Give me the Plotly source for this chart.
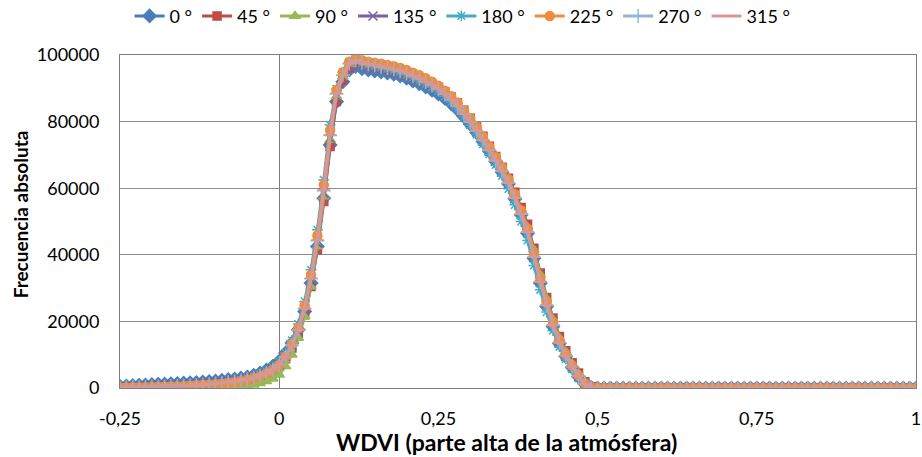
import plotly.graph_objects as go

# x positions: -0.25 .. 1.00 step 0.01
x_values = [round(-0.25 + 0.01 * i, 2) for i in range(126)]

# Nonzero part of each series (x = -0.25 .. 0.49)
s0 = [500, 600, 700, 800, 900, 1000, 1100, 1150, 1250, 1350,
      1450, 1550, 1650, 1800, 1950, 2100, 2300, 2500, 2700, 3000,
      3300, 3800, 4500, 5400, 6500, 8000, 10500, 13500, 17500, 23000,
      31500, 42500, 57000, 73000, 86000, 92000, 95500, 96600, 95900, 95500,
      95200, 94900, 94600, 94200, 93700, 93000, 92200, 91400, 90400, 89400,
      88300, 87000, 85400, 83600, 81500, 79200, 76700, 74000, 71100, 68000,
      64800, 61300, 56800, 52000, 46500, 39000, 31500, 24500, 18500, 13400,
      9500, 6200, 3400, 1200, 200]
s45 = [300, 300, 350, 400, 450, 500, 550, 600, 650, 700,
       800, 900, 1000, 1100, 1250, 1400, 1600, 1800, 2050, 2350,
       2700, 3100, 3600, 4300, 5200, 6500, 8800, 12000, 16200, 22000,
       30500, 41500, 56000, 72500, 86000, 92500, 96200, 97500, 97200, 96800,
       96500, 96100, 95700, 95300, 94800, 94100, 93300, 92500, 91600, 90700,
       90300, 89000, 87400, 85600, 83400, 81000, 78400, 75600, 72600, 69500,
       66300, 63000, 58800, 54200, 49200, 42000, 34500, 27200, 21000, 15500,
       11200, 7600, 4500, 1900, 400]
s90 = [0, 0, 0, 0, 0, 0, 0, 50, 50, 50,
       100, 100, 100, 150, 150, 200, 250, 300, 400, 400,
       700, 1000, 1400, 2000, 2800, 4000, 6500, 10000, 15000, 21500,
       30500, 42500, 57500, 74500, 87500, 93500, 97200, 98300, 97900, 97500,
       97200, 96800, 96400, 96000, 95500, 94900, 94100, 93300, 92400, 91400,
       90200, 88800, 87200, 85300, 83100, 80700, 78100, 75300, 72400, 69300,
       66100, 62600, 58300, 53500, 48300, 41500, 34000, 26800, 20500, 15000,
       10800, 7300, 4200, 1700, 300]
s135 = [200, 250, 250, 300, 350, 400, 450, 500, 550, 650,
        750, 850, 950, 1050, 1200, 1350, 1550, 1800, 2050, 2400,
        2800, 3300, 3900, 4700, 5700, 7100, 9500, 12800, 17000, 23200,
        32000, 43500, 58500, 75000, 87500, 93300, 96800, 97800, 97200, 96800,
        96500, 96100, 95700, 95300, 94800, 94100, 93300, 92500, 91500, 90500,
        89300, 87800, 86100, 84200, 82000, 79600, 76900, 74100, 71100, 68000,
        64800, 61300, 56800, 52000, 46600, 39200, 31700, 24700, 18700, 13500,
        9500, 6300, 3500, 1200, 200]
s180 = [250, 250, 300, 300, 350, 400, 450, 500, 550, 650,
        750, 850, 950, 1050, 1200, 1350, 1550, 1800, 2100, 2450,
        2900, 3400, 4100, 5000, 6100, 7800, 10500, 14300, 19200, 26000,
        35500, 47500, 62500, 79000, 89800, 94800, 97800, 98200, 97500, 97000,
        96600, 96200, 95800, 95300, 94800, 94000, 93200, 92300, 91300, 90300,
        89200, 87600, 85800, 83800, 81400, 78900, 76100, 73200, 70200, 67000,
        63700, 59800, 55000, 50000, 44300, 36800, 29500, 22800, 17200, 12400,
        8700, 5600, 2900, 900, 100]
s225 = [150, 150, 200, 200, 250, 300, 350, 400, 450, 500,
        600, 700, 800, 900, 1000, 1150, 1300, 1500, 1750, 2050,
        2450, 2950, 3550, 4350, 5400, 6900, 9500, 13200, 18000, 24800,
        34000, 45800, 61000, 77500, 89500, 94800, 98000, 99000, 98400, 98000,
        97700, 97400, 97000, 96600, 96100, 95500, 94700, 93900, 93000, 92000,
        90800, 89300, 87600, 85700, 83400, 81000, 78300, 75500, 72500, 69400,
        66200, 62700, 58200, 53300, 47800, 40300, 32800, 25700, 19600, 14300,
        10200, 6800, 3800, 1400, 200]
s270 = [150, 200, 250, 250, 300, 350, 400, 450, 500, 600,
        650, 750, 850, 950, 1100, 1250, 1450, 1700, 1950, 2250,
        2650, 3100, 3700, 4500, 5500, 6900, 9300, 12800, 17300, 23800,
        32800, 44200, 59200, 75800, 88300, 93900, 97400, 98400, 97700, 97200,
        96900, 96500, 96100, 95700, 95200, 94500, 93700, 92900, 91900, 90900,
        89700, 88200, 86500, 84500, 82200, 79800, 77100, 74300, 71300, 68200,
        65000, 61500, 57000, 52200, 46800, 39300, 31800, 24800, 18800, 13600,
        9600, 6400, 3500, 1200, 200]
s315 = [200, 200, 200, 300, 300, 400, 400, 500, 500, 600,
        700, 800, 900, 1000, 1100, 1300, 1500, 1700, 2000, 2300,
        2700, 3200, 3800, 4600, 5600, 7000, 9500, 13000, 17500, 24000,
        33000, 44500, 59500, 76000, 88500, 94000, 97500, 98500, 97800, 97300,
        97000, 96600, 96200, 95800, 95300, 94600, 93800, 93000, 92000, 91000,
        89800, 88300, 86600, 84700, 82400, 80000, 77300, 74500, 71500, 68400,
        65200, 61700, 57200, 52400, 47000, 39500, 32000, 25000, 19000, 13800,
        9800, 6500, 3600, 1300, 200]

# x = 0.50 .. 1.00: all series are zero
zeros_tail = [0] * 51

series_names = ["0 °", "45 °", "90 °", "135 °", "180 °", "225 °", "270 °", "315 °"]
series_values = [s0, s45, s90, s135, s180, s225, s270, s315]

x_tickvals = [-0.25, 0, 0.25, 0.5, 0.75, 1]
x_ticktext = ["-0,25", "0", "0,25", "0,5", "0,75", "1"]
y_tickvals = [0, 20000, 40000, 60000, 80000, 100000]
y_ticktext = ["0", "20000", "40000", "60000", "80000", "100000"]

colors = ["#4A7EBB", "#BE4B48", "#98B954", "#7D60A0", "#46AAC5", "#F08C3C", "#95B3D7", "#D99694"]
symbols = ["diamond", "square", "triangle-up", "x-thin-open", "asterisk-open",
           "circle", "cross-thin-open", "line-ew-open"]
sizes = [10, 8, 9, 9, 9, 9, 10, 9]

fig = go.Figure()
for name, vals, c, sym, sz in zip(series_names, series_values, colors, symbols, sizes):
    fig.add_trace(go.Scatter(
        x=x_values, y=vals + zeros_tail, name=name, mode="lines+markers",
        line=dict(color=c, width=3),
        marker=dict(symbol=sym, size=sz, color=c, line=dict(color=c, width=1.5)),
    ))

FONT = "Lato"
fig.update_layout(
    width=922, height=457,
    margin=dict(l=120, r=6, t=55, b=69, autoexpand=False),
    paper_bgcolor="white", plot_bgcolor="white",
    font=dict(family=FONT, size=18, color="#000000"),
    showlegend=True,
    legend=dict(orientation="h", x=0.012, y=1.172, xanchor="left", yanchor="top",
                font=dict(family=FONT, size=18), itemwidth=30,
                bgcolor="rgba(0,0,0,0)"),
    xaxis=dict(range=[-0.25, 1], tickvals=x_tickvals, ticktext=x_ticktext,
               showgrid=False, zeroline=True, zerolinecolor="#7F7F7F", zerolinewidth=1,
               showline=True, mirror=True, linecolor="#7F7F7F", linewidth=1,
               ticks="", ticklabelstandoff=14, automargin=False,
               tickfont=dict(family=FONT, size=18)),
    yaxis=dict(range=[0, 100000], tickvals=y_tickvals, ticktext=y_ticktext,
               showgrid=True, gridcolor="#8C8C8C", gridwidth=1, zeroline=False,
               showline=True, mirror=True, linecolor="#7F7F7F", linewidth=1,
               ticks="", ticklabelstandoff=16, automargin=False,
               tickfont=dict(family=FONT, size=18)),
    annotations=[
        dict(text="<b>Frecuencia absoluta</b>", x=-0.125, y=0.52, xref="paper", yref="paper",
             textangle=-90, showarrow=False, font=dict(family=FONT, size=19),
             xanchor="center", yanchor="middle"),
        dict(text="<b>WDVI (parte alta de la atmósfera)</b>", x=0.485, y=-0.162,
             xref="paper", yref="paper", showarrow=False, font=dict(family=FONT, size=23),
             xanchor="center", yanchor="middle"),
    ],
)

fig.write_html("out.html", config={"displayModeBar": False},
               post_script="document.body.style.margin='0';")
